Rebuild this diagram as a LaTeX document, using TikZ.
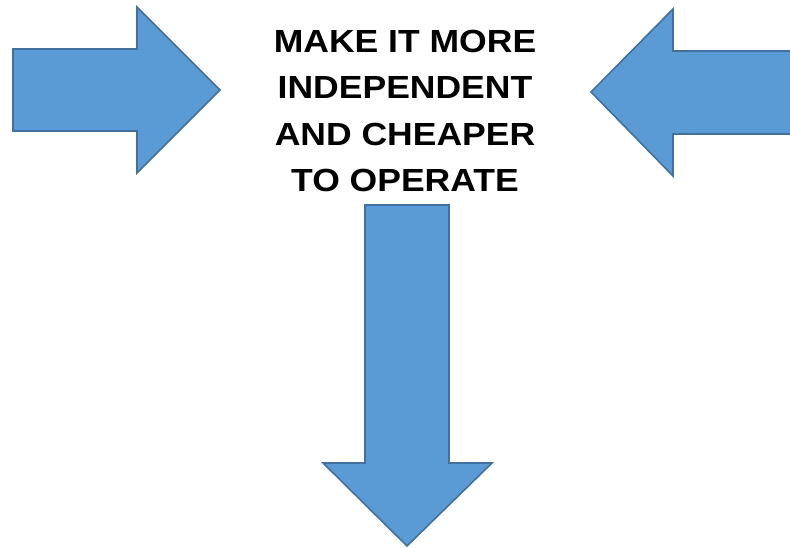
\documentclass[tikz,border=0pt]{standalone}
\usepackage{fontspec}
\setmainfont{Liberation Sans}
\newfontfamily\capfont{Liberation Sans}[FakeStretch=1.11]
\definecolor{arrowfill}{HTML}{5B9BD5}
\definecolor{arrowline}{HTML}{41719C}
\begin{document}
\begin{tikzpicture}[x=1pt,y=-1pt,
  bigarrow/.style={fill=arrowfill,draw=arrowline,line width=1.6pt,line join=miter},
  caption/.style={font=\capfont\fontsize{32}{46.3}\selectfont\bfseries,align=center,inner sep=0pt,text=black}]
\useasboundingbox (0,0) rectangle (790,548);
\clip (0,0) rectangle (790,548);
% left arrow (pointing right)
\draw[bigarrow] (13,49) -- (137,49) -- (137,7) -- (220,90) -- (137,173) -- (137,131) -- (13,131) -- cycle;
% right arrow (pointing left)
\draw[bigarrow] (800,51) -- (673,51) -- (673,9) -- (591,92) -- (673,176) -- (673,134) -- (800,134) -- cycle;
% down arrow
\draw[bigarrow] (365,205) -- (449,205) -- (449,463) -- (492,463) -- (407,546) -- (323,463) -- (365,463) -- cycle;
\node[caption] (txt) at (405,111) {MAKE IT MORE\\INDEPENDENT\\AND CHEAPER\\TO OPERATE};
\end{tikzpicture}
\end{document}
